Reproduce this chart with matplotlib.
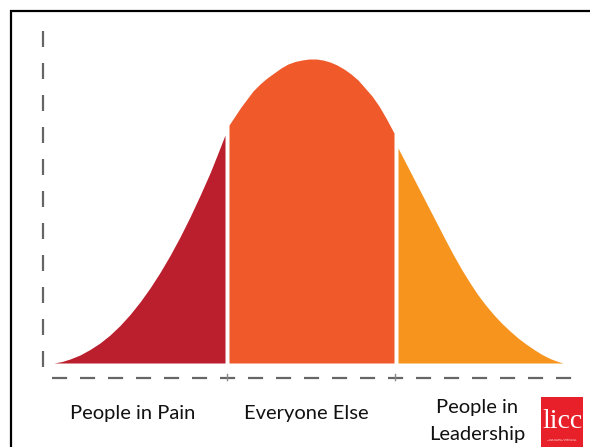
import matplotlib.pyplot as plt
from matplotlib.patches import Rectangle

# curve outline (x position, height above the baseline)
pain_x = [54, 62, 70, 80, 90, 100, 110, 120, 130, 140, 150, 160, 170, 180,
          190, 200, 210, 217, 225]
pain_h = [0, 1.5, 4, 8, 13.5, 20, 28, 37.5, 48.5, 61, 75, 90.5, 107.5, 126,
          146, 167.5, 190, 207.5, 228]

else_x = [229, 235, 241, 247, 253, 260, 267, 274, 281, 288, 295, 302, 309,
          316, 323, 330, 337, 344, 351, 358, 365, 372, 379, 386, 394]
else_h = [238, 247, 256, 264, 272, 279, 285, 290, 295, 299, 301.5, 303, 304,
          304, 303, 301, 298, 294, 289, 283, 275, 267, 257, 245, 230]

lead_x = [398, 406, 414, 422, 430, 438, 446, 454, 462, 470, 478, 486, 494,
          502, 510, 518, 526, 534, 542, 550, 557, 563]
lead_h = [215, 199.5, 184, 168.5, 153, 137.5, 122, 107, 93, 80, 68, 57.5, 48,
          39.5, 32, 25, 19, 13.5, 8.5, 4.5, 1.8, 0]

labels = ["People in Pain", "Everyone Else", "People in\nLeadership"]
label_x = [133, 306, 477]
label_y = [-51, -51, -58]
colors = ["#bb1e2d", "#f05a2a", "#f7941e"]

fig = plt.figure(figsize=(5.9, 4.47), dpi=100)
ax = fig.add_axes([0, 0, 1, 1])
ax.set_xlim(0, 590)
ax.set_ylim(-84, 363)
ax.axis("off")

for xs, hs, c in zip([pain_x, else_x, lead_x], [pain_h, else_h, lead_h], colors):
    ax.fill_between(xs, 0, hs, color=c, linewidth=0)

# dashed axes
ax.plot([42.7, 42.7], [332, -9], color="#666666", lw=1.6, ls=(0, (7.2, 7.2)))
ax.plot([52, 578], [-15, -15], color="#666666", lw=1.6, ls=(0, (6.8, 5.8)))
for bx in [227, 395]:
    ax.plot([bx, bx], [-11, -17], color="#888888", lw=1)

# frame (left and top only, the rest is cropped)
ax.plot([10.5, 10.5, 590], [-84, 352.5, 352.5], color="black", lw=1.6,
        solid_joinstyle="miter")

for lx, ly, t in zip(label_x, label_y, labels):
    ax.text(lx, ly, t, ha="center", va="center", fontsize=14.5,
            family="Lato", color="#111111", linespacing=1.7)

# logo
ax.add_patch(Rectangle((541, -84), 42, 50, color="#e8202a", lw=0))
ax.text(562, -59, "licc", ha="center", va="center", fontsize=20,
        family="Liberation Serif", color="white")
ax.text(562, -77, "The London Institute for\nContemporary Christianity",
        ha="center", va="center", fontsize=1.6, color="white")

fig.savefig("out.png", dpi=100)
